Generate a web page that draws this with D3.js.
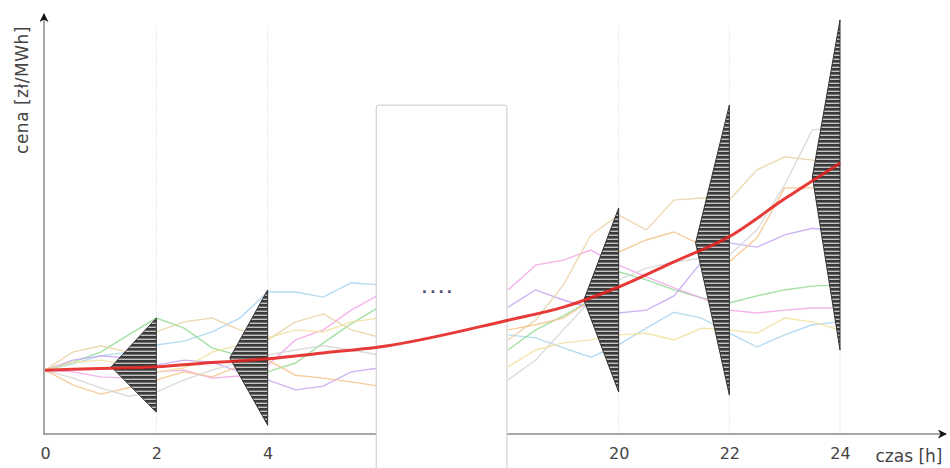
<!DOCTYPE html>
<html>
<head>
<meta charset="utf-8">
<script src="https://cdn.jsdelivr.net/npm/d3@7"></script>
<style>
  body { margin: 0; background: #fff; }
</style>
</head>
<body>
<div id="chart"></div>
<script>
// time axis (hours) - the middle of the day is cut out
const hoursLeft  = [0, 0.5, 1, 1.5, 2, 2.5, 3, 3.5, 4, 4.5, 5, 5.5, 6];
const hoursRight = [18, 18.5, 19, 19.5, 20, 20.5, 21, 21.5, 22, 22.5, 23, 23.5, 24];
const tickHours = [0, 2, 4, 20, 22, 24];

// simulated price paths, left part (0-6h) and right part (18-24h)
const blueL   = [15.2, 16.7, 18.6, 19.5, 21.2, 22.1, 24.3, 27.6, 33.8, 33.8, 32.6, 36.0, 35.5];
const blueR   = [23.6, 22.9, 20.5, 18.3, 21.2, 25.2, 29.0, 27.6, 24.0, 20.7, 23.6, 26.0, 26.7];
const greenL  = [15.2, 17.1, 19.5, 23.6, 27.6, 25.2, 20.5, 18.6, 14.8, 16.9, 21.7, 26.2, 30.2];
const greenR  = [20.0, 24.8, 28.1, 31.9, 38.6, 36.7, 34.3, 32.4, 31.2, 32.9, 34.3, 35.2, 35.5];
const pinkL   = [15.2, 14.8, 13.6, 13.3, 14.8, 15.2, 13.3, 13.8, 16.4, 22.4, 24.8, 29.5, 33.1];
const pinkR   = [34.3, 40.2, 41.4, 43.8, 40.2, 37.4, 34.8, 32.4, 29.5, 28.8, 29.5, 30.0, 30.0];
const purpleL = [15.2, 17.6, 18.6, 18.1, 16.4, 17.6, 17.1, 14.8, 12.9, 10.5, 11.4, 14.8, 15.7];
const purpleR = [30.2, 34.3, 31.9, 30.0, 28.8, 29.5, 32.9, 41.0, 45.5, 44.5, 47.4, 49.0, 48.1];
const tanL    = [15.2, 19.5, 21.0, 19.5, 24.3, 26.7, 27.6, 24.8, 22.4, 26.7, 28.6, 24.8, 23.1];
const tanR    = [22.4, 27.1, 35.5, 47.4, 52.1, 48.6, 55.7, 56.2, 55.7, 62.9, 66.0, 65.2, 64.0];
const orangeL = [15.2, 11.7, 9.5, 11.0, 12.9, 14.8, 13.6, 16.2, 17.6, 14.0, 13.3, 12.4, 11.4];
const orangeR = [24.8, 26.0, 27.6, 31.9, 43.3, 46.2, 48.1, 45.0, 41.0, 46.7, 58.6, 58.6, 58.1];
const greyL   = [15.2, 13.3, 11.0, 9.0, 10.0, 12.9, 15.2, 17.1, 18.8, 20.0, 21.0, 20.0, 18.8];
const greyR   = [12.9, 17.6, 24.8, 31.9, 36.7, 39.5, 40.9, 41.9, 42.6, 48.6, 59.3, 72.4, 72.9];
const yellowL = [15.2, 17.1, 17.6, 16.4, 14.8, 15.7, 19.5, 21.2, 22.9, 24.8, 24.3, 26.7, 27.6];
const yellowR = [16.0, 20.0, 21.7, 22.4, 23.6, 24.0, 22.4, 25.2, 24.8, 24.0, 27.6, 26.7, 24.8];

const pathColors = ["#a9d5ef", "#93dc93", "#f2a6e6", "#c4a6f2", "#ead2a4", "#f6c38c", "#d6d6d6", "#f1e09e"];

// expected price (red curve)
const meanHours = [0, 1, 2, 3, 4, 5, 6, 18, 19, 20, 21, 22, 23, 24];
const meanPrice = [15.2, 15.6, 16.0, 17.0, 17.9, 19.3, 20.7, 27.1, 30.2, 35.0, 41.0, 47.0, 56.0, 64.5];

// price distributions at selected hours
const distHours = [2, 4, 20, 22, 24];
const distLow   = [5.2, 2.1, 10.0, 9.3, 20.0];
const distHigh  = [27.6, 34.3, 53.8, 78.3, 98.6];
const distMode  = [16.0, 18.1, 31.9, 45.5, 61.2];
const distWidth = [0.81, 0.68, 0.63, 0.61, 0.5];   // in hours

// hidden part of the day
const gapHours = [5.95, 17.9];
const gapTop = 78.3;

const width = 950, height = 468;
const svg = d3.select("#chart").append("svg")
    .attr("width", width)
    .attr("height", height);

const x = d3.scaleLinear()
    .domain([0, 6, 18, 24])
    .range([45, 379, 508, 840]);

const y = d3.scaleLinear()
    .domain([0, 100])
    .range([434, 14]);

// stripes for the distributions
const defs = svg.append("defs");
const pat = defs.append("pattern")
    .attr("id", "stripes")
    .attr("patternUnits", "userSpaceOnUse")
    .attr("width", 8)
    .attr("height", 4);
pat.append("rect").attr("width", 8).attr("height", 4).attr("fill", "#c4c4c4");
pat.append("rect").attr("width", 8).attr("height", 2.6).attr("fill", "#3a3a3a");

defs.append("marker")
    .attr("id", "arrow")
    .attr("viewBox", "0 0 10 10")
    .attr("refX", 9).attr("refY", 5)
    .attr("markerWidth", 9).attr("markerHeight", 9)
    .attr("markerUnits", "userSpaceOnUse")
    .attr("orient", "auto")
  .append("path")
    .attr("d", "M0,0 L10,5 L0,10 L3,5 Z")
    .attr("fill", "#111");

// vertical dotted grid lines
svg.append("g")
  .selectAll("line")
  .data(tickHours.filter(d => d > 0))
  .join("line")
    .attr("x1", d => x(d)).attr("x2", d => x(d))
    .attr("y1", y(97)).attr("y2", y(0))
    .attr("stroke", "#cfcfcf")
    .attr("stroke-width", 1)
    .attr("stroke-dasharray", "1,2");

// axes
const xAxis = d3.axisBottom(x)
    .tickValues(tickHours)
    .tickSize(0)
    .tickPadding(14)
    .tickFormat(d3.format("d"));

const gx = svg.append("g")
    .attr("transform", `translate(0, ${y(0)})`)
    .call(xAxis);
gx.select(".domain").remove();
gx.selectAll("text")
    .attr("font-family", "DejaVu Sans, sans-serif")
    .attr("font-size", 16)
    .attr("fill", "#444");

svg.append("line")
    .attr("x1", x(0) - 2).attr("x2", 946)
    .attr("y1", y(0)).attr("y2", y(0))
    .attr("stroke", "#8a8a8a")
    .attr("stroke-width", 1.5)
    .attr("marker-end", "url(#arrow)");

svg.append("line")
    .attr("x1", x(0) - 1).attr("x2", x(0) - 1)
    .attr("y1", y(0)).attr("y2", 14)
    .attr("stroke", "#8a8a8a")
    .attr("stroke-width", 1.5)
    .attr("marker-end", "url(#arrow)");

svg.append("text")
    .attr("x", 909)
    .attr("y", 462)
    .attr("text-anchor", "middle")
    .attr("font-family", "DejaVu Sans, sans-serif")
    .attr("font-size", 17)
    .attr("fill", "#444")
    .text("czas [h]");

svg.append("text")
    .attr("transform", "translate(28, 90) rotate(-90)")
    .attr("text-anchor", "middle")
    .attr("font-family", "DejaVu Sans, sans-serif")
    .attr("font-size", 17)
    .attr("letter-spacing", 0.5)
    .attr("fill", "#444")
    .text("cena [zł/MWh]");

// price paths
const paths = [
  [blueL, blueR], [greenL, greenR], [pinkL, pinkR], [purpleL, purpleR],
  [tanL, tanR], [orangeL, orangeR], [greyL, greyR], [yellowL, yellowR]
];

const line = d3.line()
    .x(d => x(d[0]))
    .y(d => y(d[1]));

const gp = svg.append("g")
    .attr("fill", "none")
    .attr("stroke-width", 1.4)
    .attr("stroke-opacity", 0.85);
paths.forEach((p, i) => {
  gp.append("path")
      .attr("d", line(hoursLeft.map((h, j) => [h, p[0][j]])))
      .attr("stroke", pathColors[i]);
  gp.append("path")
      .attr("d", line(hoursRight.map((h, j) => [h, p[1][j]])))
      .attr("stroke", pathColors[i]);
});

// white box hiding the middle hours
svg.append("rect")
    .attr("x", x(gapHours[0]))
    .attr("y", y(gapTop))
    .attr("width", x(gapHours[1]) - x(gapHours[0]))
    .attr("height", height - y(gapTop) + 5)
    .attr("rx", 2)
    .attr("fill", "#fff")
    .attr("stroke", "#c8c8c8")
    .attr("stroke-width", 1);

svg.append("text")
    .attr("x", x(12) - 5)
    .attr("y", y(33.5))
    .attr("text-anchor", "middle")
    .attr("font-family", "DejaVu Sans, sans-serif")
    .attr("font-size", 14)
    .attr("font-weight", "bold")
    .attr("letter-spacing", 3)
    .attr("fill", "#4a5068")
    .text("....");

// distributions
svg.append("g")
  .selectAll("path")
  .data(distHours)
  .join("path")
    .attr("d", (d, i) => `M${x(d)},${y(distHigh[i])} L${x(d - distWidth[i])},${y(distMode[i])} L${x(d)},${y(distLow[i])} Z`)
    .attr("fill", "url(#stripes)")
    .attr("stroke", "#333")
    .attr("stroke-width", 1);

// expected price
svg.append("path")
    .attr("d", d3.line()
        .x((d, i) => x(meanHours[i]))
        .y(d => y(d))
        .curve(d3.curveMonotoneX)(meanPrice))
    .attr("fill", "none")
    .attr("stroke", "#e3201c")
    .attr("stroke-opacity", 0.88)
    .attr("stroke-width", 3);
</script>
</body>
</html>
